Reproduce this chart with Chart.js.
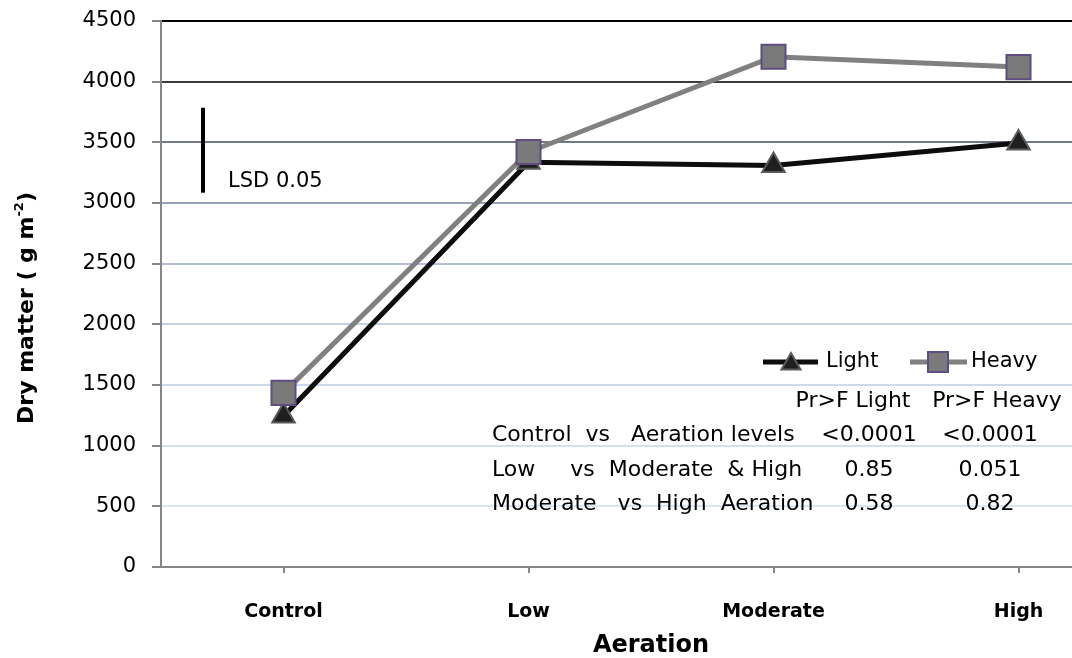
<!DOCTYPE html>
<html>
<head>
<meta charset="utf-8">
<script src="https://cdn.jsdelivr.net/npm/chart.js@4/dist/chart.umd.min.js"></script>
<style>
  html, body { margin: 0; padding: 0; background: #fff; overflow: hidden; }
  #wrap { width: 1160px; height: 658px; }
</style>
</head>
<body>
<div id="wrap"><canvas id="chart" width="1160" height="658"></canvas></div>
<script>
// data
const categories = ['Control', 'Low', 'Moderate', 'High'];
const lightValues = [1245, 3335, 3310, 3495];
const heavyValues = [1435, 3420, 4205, 4120];
const yMin = 0;
const yMax = 4500;
const yStep = 500;

// LSD bar
const lsdBase = 3085;
const lsdValue = 700;
const lsdLabel = 'LSD 0.05';

// contrast table
const tableHeader = ['Pr>F Light', 'Pr>F Heavy'];
const contrastLabels = ['Control  vs   Aeration levels', 'Low     vs  Moderate  & High', 'Moderate   vs  High  Aeration'];
const prLight = ['<0.0001', '0.85', '0.58'];
const prHeavy = ['<0.0001', '0.051', '0.82'];

// gridlines go from pale blue at the bottom to black at the top
const gridColors = ['#868686', '#dde4f2', '#d6dff0', '#ced8ee', '#c5d0e8', '#b5c0d8', '#98a2b6', '#727884', '#3c3c3c', '#000000'];

const FONT = "'DejaVu Sans', sans-serif";
const LIGHT_LINE = '#0d0d0d';
const HEAVY_LINE = '#808080';

function drawTriangle(ctx, x, y, r) {
    ctx.beginPath();
    ctx.moveTo(x, y - r);
    ctx.lineTo(x + r * 0.866, y + r * 0.5);
    ctx.lineTo(x - r * 0.866, y + r * 0.5);
    ctx.closePath();
    ctx.fillStyle = '#1f1f1f';
    ctx.fill();
    ctx.lineWidth = 2;
    ctx.strokeStyle = '#5a5a5a';
    ctx.stroke();
}

function drawSquare(ctx, x, y, half) {
    ctx.fillStyle = '#7a7a7a';
    ctx.fillRect(x - half, y - half, half * 2, half * 2);
    ctx.lineWidth = 2;
    ctx.strokeStyle = '#5f4c80';
    ctx.strokeRect(x - half, y - half, half * 2, half * 2);
}

// extras: y title, LSD bar, legend, table
const extras = {
    id: 'extras',
    afterDraw(chart) {
        const ctx = chart.ctx;
        const y = chart.scales.y;
        const area = chart.chartArea;
        ctx.save();

        // y axis title with superscript
        ctx.translate(27, 308);
        ctx.rotate(-Math.PI / 2);
        ctx.fillStyle = '#000';
        ctx.textBaseline = 'middle';
        ctx.textAlign = 'left';
        const main = 'Dry matter ( g m';
        const sup = '-2';
        const close = ')';
        ctx.font = 'bold 22px ' + FONT;
        const w1 = ctx.measureText(main).width;
        const w3 = ctx.measureText(close).width;
        ctx.font = 'bold 13px ' + FONT;
        const w2 = ctx.measureText(sup).width;
        let x0 = -(w1 + w2 + w3) / 2;
        ctx.font = 'bold 22px ' + FONT;
        ctx.fillText(main, x0, 0);
        ctx.font = 'bold 13px ' + FONT;
        ctx.fillText(sup, x0 + w1, -7);
        ctx.font = 'bold 22px ' + FONT;
        ctx.fillText(close, x0 + w1 + w2, 0);
        ctx.restore();

        ctx.save();
        // LSD bar
        const lx = area.left + 42;
        ctx.strokeStyle = '#000';
        ctx.lineWidth = 4;
        ctx.beginPath();
        ctx.moveTo(lx, y.getPixelForValue(lsdBase));
        ctx.lineTo(lx, y.getPixelForValue(lsdBase + lsdValue));
        ctx.stroke();
        ctx.font = '21px ' + FONT;
        ctx.fillStyle = '#000';
        ctx.textBaseline = 'middle';
        ctx.fillText(lsdLabel, lx + 25, 182);

        // legend
        ctx.lineWidth = 5;
        ctx.strokeStyle = LIGHT_LINE;
        ctx.beginPath();
        ctx.moveTo(763, 362);
        ctx.lineTo(818, 362);
        ctx.stroke();
        drawTriangle(ctx, 791, 364, 11);
        ctx.strokeStyle = HEAVY_LINE;
        ctx.lineWidth = 5;
        ctx.beginPath();
        ctx.moveTo(910, 362);
        ctx.lineTo(967, 362);
        ctx.stroke();
        drawSquare(ctx, 938, 362, 10);
        ctx.fillStyle = '#000';
        ctx.textAlign = 'left';
        ctx.fillText('Light', 826, 362);
        ctx.fillText('Heavy', 971, 362);

        // contrast table
        ctx.font = '22px ' + FONT;
        ctx.textAlign = 'center';
        ctx.fillText(tableHeader[0], 853, 401);
        ctx.fillText(tableHeader[1], 997, 401);
        const rowY = [435, 470, 504];
        for (let i = 0; i < contrastLabels.length; i++) {
            ctx.textAlign = 'left';
            ctx.fillText(contrastLabels[i], 492, rowY[i]);
            ctx.textAlign = 'center';
            ctx.fillText(prLight[i], 869, rowY[i]);
            ctx.fillText(prHeavy[i], 990, rowY[i]);
        }
        ctx.restore();
    }
};

const ctx = document.getElementById('chart').getContext('2d');
new Chart(ctx, {
    type: 'line',
    data: {
        labels: categories,
        datasets: [
            {
                label: 'Light',
                data: lightValues,
                borderColor: LIGHT_LINE,
                borderWidth: 5,
                pointStyle: 'triangle',
                pointRadius: 13,
                pointBackgroundColor: '#1f1f1f',
                pointBorderColor: '#5a5a5a',
                pointBorderWidth: 2,
                order: 1
            },
            {
                label: 'Heavy',
                data: heavyValues,
                borderColor: HEAVY_LINE,
                borderWidth: 5,
                pointStyle: 'rect',
                pointRadius: 17,
                pointBackgroundColor: '#7a7a7a',
                pointBorderColor: '#5f4c80',
                pointBorderWidth: 2,
                order: 0
            }
        ]
    },
    options: {
        responsive: false,
        animation: false,
        layout: { padding: { top: 21, right: 18, left: 0, bottom: 0 } },
        plugins: {
            legend: { display: false },
            tooltip: { enabled: false }
        },
        scales: {
            x: {
                offset: true,
                grid: {
                    offset: false,
                    drawOnChartArea: false,
                    tickLength: 6,
                    tickColor: '#868686',
                    lineWidth: 2
                },
                border: { color: '#868686', width: 2 },
                ticks: {
                    color: '#000',
                    padding: 28,
                    font: { family: FONT, size: 19, weight: 'bold' }
                },
                title: {
                    display: true,
                    text: 'Aeration',
                    color: '#000',
                    padding: { top: 0, bottom: 0 },
                    font: { family: FONT, size: 24, weight: 'bold', lineHeight: 1.0 }
                },
                afterFit(scale) { scale.height = 91; }
            },
            y: {
                min: yMin,
                max: yMax,
                ticks: {
                    stepSize: yStep,
                    color: '#000',
                    padding: 16,
                    font: { family: FONT, size: 21 },
                    callback: (v) => String(v)
                },
                grid: {
                    color: (c) => gridColors[c.index] || '#dde4f2',
                    lineWidth: 2,
                    tickLength: 9,
                    tickColor: '#868686'
                },
                border: { color: '#868686', width: 2 },
                afterFit(scale) {
                    scale.width = 161;
                    scale.paddingTop = 0;
                    scale.paddingBottom = 0;
                }
            }
        }
    },
    plugins: [extras]
});
</script>
</body>
</html>
